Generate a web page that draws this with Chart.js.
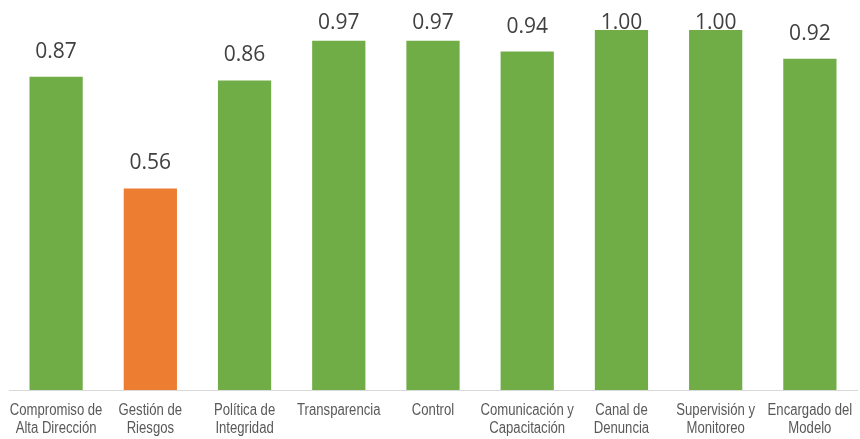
<!DOCTYPE html>
<html>
<head>
<meta charset="utf-8">
<script src="https://cdn.jsdelivr.net/npm/chart.js@4/dist/chart.umd.min.js"></script>
<style>
  html, body { margin: 0; padding: 0; background: #ffffff; }
  #wrap { width: 860px; height: 439px; position: relative; }
</style>
</head>
<body>
<div id="wrap"><canvas id="chart"></canvas></div>
<script>
// Category labels (two-line where the label wraps)
const categories = [
  ['Compromiso de', 'Alta Dirección'],
  ['Gestión de', 'Riesgos'],
  ['Política de', 'Integridad'],
  ['Transparencia'],
  ['Control'],
  ['Comunicación y', 'Capacitación'],
  ['Canal de', 'Denuncia'],
  ['Supervisión y', 'Monitoreo'],
  ['Encargado del', 'Modelo']
];

// Score per component
const scores = [0.87, 0.56, 0.86, 0.97, 0.97, 0.94, 1.00, 1.00, 0.92];

// Bar fill per component (the weakest one highlighted)
const barColors = ['#70AD47', '#ED7D31', '#70AD47', '#70AD47', '#70AD47', '#70AD47', '#70AD47', '#70AD47', '#70AD47'];

// Draws each score above its bar, kept inside the top of the plot
const valueLabels = {
  id: 'valueLabels',
  afterDatasetsDraw(chart) {
    const ctx = chart.ctx;
    const meta = chart.getDatasetMeta(0);
    ctx.save();
    ctx.font = '21px "Open Sans", "Noto Sans", sans-serif';
    ctx.fillStyle = '#404040';
    ctx.textAlign = 'center';
    ctx.textBaseline = 'alphabetic';
    meta.data.forEach((bar, i) => {
      const y = Math.max(bar.y - 19, 28.5);
      ctx.fillText(scores[i].toFixed(2), bar.x, y);
    });
    ctx.restore();
  }
};

// Draws the category names under the axis in a condensed sans face
const categoryLabels = {
  id: 'categoryLabels',
  afterDraw(chart) {
    const ctx = chart.ctx;
    const xScale = chart.scales.x;
    const squeeze = 0.82;
    ctx.save();
    ctx.font = '16px "Liberation Sans", Arial, sans-serif';
    ctx.fillStyle = '#595959';
    ctx.textAlign = 'center';
    ctx.textBaseline = 'alphabetic';
    categories.forEach((lines, i) => {
      const cx = xScale.getPixelForTick(i);
      lines.forEach((line, j) => {
        ctx.save();
        ctx.translate(cx, xScale.top + 25 + j * 17.5);
        ctx.scale(squeeze, 1);
        ctx.fillText(line, 0, 0);
        ctx.restore();
      });
    });
    ctx.restore();
  }
};

new Chart(document.getElementById('chart'), {
  type: 'bar',
  data: {
    labels: categories,
    datasets: [{
      data: scores,
      backgroundColor: barColors,
      borderWidth: 0,
      categoryPercentage: 1,
      barPercentage: 0.565
    }]
  },
  options: {
    responsive: true,
    maintainAspectRatio: false,
    animation: false,
    layout: { padding: { top: 12, left: 9, right: 3, bottom: 0 } },
    plugins: {
      legend: { display: false },
      tooltip: { enabled: false }
    },
    scales: {
      y: {
        display: false,
        min: 0,
        max: 1.05
      },
      x: {
        grid: { display: false },
        border: { display: true, color: '#D9D9D9', width: 1 },
        ticks: { display: false },
        afterFit(scale) { scale.height = 49; }
      }
    }
  },
  plugins: [valueLabels, categoryLabels]
});
</script>
</body>
</html>
